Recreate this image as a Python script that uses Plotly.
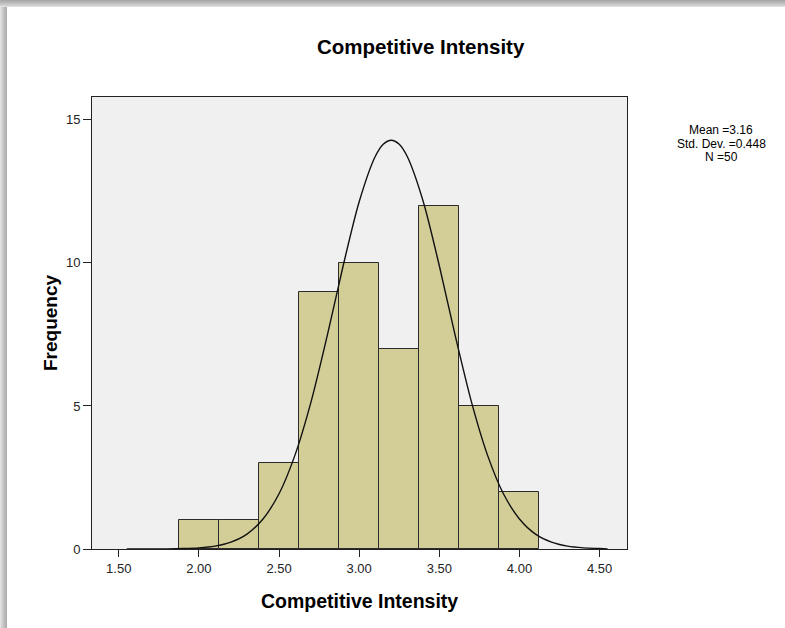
import plotly.graph_objects as go

# ---- data ----
bin_starts = [1.875, 2.125, 2.375, 2.625, 2.875, 3.125, 3.375, 3.625, 3.875]
bin_width = 0.25
counts = [1, 1, 3, 9, 10, 7, 12, 5, 2]

curve_x = [1.55, 1.6, 1.7, 1.8, 1.9, 2.0, 2.1, 2.2, 2.3, 2.4, 2.5, 2.6, 2.7, 2.8, 2.9,
           3.0, 3.1, 3.15, 3.2, 3.25, 3.3, 3.4, 3.5, 3.6, 3.7, 3.8, 3.9, 4.0, 4.1,
           4.2, 4.3, 4.4, 4.5, 4.55]
curve_y = [0.0, 0.0, 0.001, 0.005, 0.015, 0.04, 0.10, 0.24, 0.52, 1.05, 1.93, 3.29,
           5.15, 7.44, 9.90, 12.14, 13.72, 14.15, 14.29, 14.15, 13.72, 12.14, 9.90,
           7.44, 5.15, 3.29, 1.93, 1.05, 0.52, 0.24, 0.10, 0.04, 0.015, 0.0]

x_ticks = [1.5, 2.0, 2.5, 3.0, 3.5, 4.0, 4.5]
x_tick_labels = ["1.50", "2.00", "2.50", "3.00", "3.50", "4.00", "4.50"]
y_ticks = [0, 5, 10, 15]
y_tick_labels = ["0", "5", "10", "15"]

title_text = "Competitive Intensity"
x_title = "Competitive Intensity"
y_title = "Frequency"
stats_lines = ["Mean =3.16", "Std. Dev. =0.448", "N =50"]

# ---- figure ----
W, H = 785, 628
L, R, T, B = 92, 158, 97, 79
PW, PH = W - L - R, H - T - B


def px_x(p):
    return (p - L) / PW


def px_y(p):
    return (H - B - p) / PH


bar_centers = [s + bin_width / 2 for s in bin_starts]

fig = go.Figure()
fig.add_trace(go.Bar(
    x=bar_centers, y=counts, width=[bin_width] * len(counts),
    marker=dict(color="#d3ce98", line=dict(color="#2b2b2b", width=1)),
    hoverinfo="x+y", showlegend=False,
))
fig.add_trace(go.Scatter(
    x=curve_x, y=curve_y, mode="lines",
    line=dict(color="#111111", width=1.4, shape="spline", smoothing=0.8),
    showlegend=False, hoverinfo="skip",
))

font = "Liberation Sans, Arial, sans-serif"

fig.update_layout(
    width=W, height=H,
    margin=dict(l=L, r=R, t=T, b=B, pad=0),
    paper_bgcolor="white",
    plot_bgcolor="#f0f0f0",
    bargap=0,
    font=dict(family=font, color="black"),
    xaxis=dict(
        range=[1.333, 4.671], tickvals=x_ticks, ticktext=x_tick_labels,
        showgrid=False, zeroline=False, showline=True, linecolor="#222222",
        linewidth=1, mirror=True, ticks="outside", ticklen=7, tickcolor="#222222",
        tickfont=dict(size=13, family=font, color="#222222"),
    ),
    yaxis=dict(
        range=[0, 15.8], tickvals=y_ticks, ticktext=y_tick_labels,
        showgrid=False, zeroline=False, showline=True, linecolor="#222222",
        linewidth=1, mirror=True, ticks="outside", ticklen=8, tickcolor="#222222",
        tickfont=dict(size=13, family=font, color="#222222"),
    ),
)

annotations = [
    dict(text="<b>" + title_text + "</b>", x=px_x(421), y=px_y(46),
         font=dict(size=20.5, family=font, color="black")),
    dict(text="<b>" + x_title + "</b>", x=px_x(359), y=px_y(601),
         font=dict(size=19.5, family=font, color="black")),
    dict(text="<b>" + y_title + "</b>", x=px_x(50), y=px_y(323), textangle=-90,
         font=dict(size=19, family=font, color="black")),
]
for i, line in enumerate(stats_lines):
    annotations.append(dict(text=line, x=px_x(721), y=px_y(130 + 13.5 * i),
                            borderpad=0,
                            font=dict(size=12, family=font, color="black")))
for a in annotations:
    a.update(xref="paper", yref="paper", showarrow=False,
             xanchor="center", yanchor="middle")
fig.update_layout(annotations=annotations)

# window frame shading (top and left edges)
shapes = []
top_greys = [168, 176, 184, 192, 200, 210, 222]
for i, g in enumerate(top_greys):
    shapes.append(dict(type="rect", xref="paper", yref="paper",
                       x0=px_x(0), x1=px_x(W), y0=px_y(i + 1), y1=px_y(i),
                       fillcolor=f"rgb({g},{g},{g})", line=dict(width=0), layer="above"))
left_greys = [225, 215, 205, 196, 188, 180, 175]
for i, g in enumerate(left_greys):
    shapes.append(dict(type="rect", xref="paper", yref="paper",
                       x0=px_x(i), x1=px_x(i + 1), y0=px_y(H), y1=px_y(7),
                       fillcolor=f"rgb({g},{g},{g})", line=dict(width=0), layer="above"))
fig.update_layout(shapes=shapes)

fig.write_html(
    "out.html",
    config={"displayModeBar": False},
    post_script="document.body.style.margin='0';document.body.style.overflow='hidden';",
)
